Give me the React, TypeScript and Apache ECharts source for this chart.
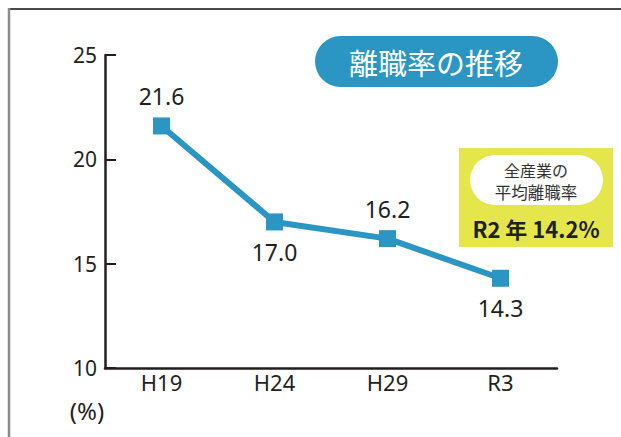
import React, { useEffect, useRef } from "react";
import * as echarts from "echarts";

const categories = ["H19", "H24", "H29", "R3"];
const rates = [21.6, 17.0, 16.2, 14.3];
const labelPositions = ["top", "bottom", "top", "bottom"];
const yMin = 10;
const yMax = 25;
const yInterval = 5;
const titleText = "離職率の推移";
const noteLines = ["全産業の", "平均離職率"];
const noteValue = "R2 年 14.2%";
const unitText = "(%)";

const BLUE = "#2b95c3";
const DARK = "#231f20";
const NUM_FONT = "'Noto Sans', 'Noto Sans CJK JP', sans-serif";
const JP_FONT = "'Noto Sans CJK JP', 'Noto Sans', sans-serif";

export default function App() {
  const ref = useRef<HTMLDivElement>(null);
  useEffect(() => {
    if (!ref.current) return;
    const chart = echarts.init(ref.current, null, { renderer: "svg" });
    chart.setOption({
      animation: false,
      backgroundColor: "#ffffff",
      grid: { left: 105, right: 64, top: 55, bottom: 69, containLabel: false },
      xAxis: {
        type: "category",
        data: categories,
        boundaryGap: true,
        axisLine: { lineStyle: { color: DARK, width: 2.5 } },
        axisTick: { inside: true, length: 8, lineStyle: { color: DARK, width: 2 } },
        axisLabel: { color: DARK, fontSize: 22, fontFamily: NUM_FONT, margin: 3 },
        splitLine: { show: false },
      },
      yAxis: {
        type: "value",
        min: yMin,
        max: yMax,
        interval: yInterval,
        axisLine: { show: true, lineStyle: { color: DARK, width: 2.5 } },
        axisTick: { show: true, inside: true, length: 11, lineStyle: { color: DARK, width: 2 } },
        axisLabel: { color: DARK, fontSize: 21, fontFamily: NUM_FONT, margin: 8 },
        splitLine: { show: false },
      },
      series: [
        {
          type: "line",
          data: rates.map((v, i) => ({
            value: v,
            label: { position: labelPositions[i], distance: 10 },
          })),
          symbol: "rect",
          symbolSize: 17,
          lineStyle: { color: BLUE, width: 6 },
          itemStyle: { color: BLUE },
          label: {
            show: true,
            color: DARK,
            fontSize: 23,
            fontFamily: NUM_FONT,
            formatter: (p: any) => Number(p.value).toFixed(1),
          },
          z: 3,
        },
      ],
      graphic: [
        {
          type: "line",
          shape: { x1: 8, y1: 9, x2: 621, y2: 9 },
          style: { stroke: "#4a4a4a", lineWidth: 2 },
        },
        {
          type: "line",
          shape: { x1: 9, y1: 8, x2: 9, y2: 437 },
          style: { stroke: "#8a8a8a", lineWidth: 2.5 },
        },
        {
          type: "rect",
          shape: { x: 315, y: 36, width: 243, height: 51, r: 25.5 },
          style: { fill: BLUE },
        },
        {
          type: "text",
          x: 436,
          y: 62,
          style: {
            text: titleText,
            fill: "#ffffff",
            fontSize: 29,
            fontFamily: JP_FONT,
            align: "center",
            verticalAlign: "middle",
          },
        },
        {
          type: "rect",
          shape: { x: 459, y: 148, width: 154, height: 99 },
          style: { fill: "#e4e64c" },
        },
        {
          type: "rect",
          shape: { x: 470, y: 155, width: 133, height: 50, r: 25 },
          style: { fill: "#ffffff" },
        },
        {
          type: "text",
          x: 536,
          y: 170,
          style: {
            text: noteLines[0],
            fill: "#333333",
            fontSize: 16,
            fontFamily: JP_FONT,
            align: "center",
            verticalAlign: "middle",
          },
        },
        {
          type: "text",
          x: 536,
          y: 192,
          style: {
            text: noteLines[1],
            fill: "#333333",
            fontSize: 16.5,
            fontFamily: JP_FONT,
            align: "center",
            verticalAlign: "middle",
          },
        },
        {
          type: "text",
          x: 536,
          y: 228,
          style: {
            text: noteValue,
            fill: DARK,
            fontSize: 22,
            fontWeight: "bold",
            fontFamily: JP_FONT,
            align: "center",
            verticalAlign: "middle",
          },
        },
        {
          type: "text",
          x: 87,
          y: 410,
          style: {
            text: unitText,
            fill: DARK,
            fontSize: 24,
            fontFamily: NUM_FONT,
            align: "center",
            verticalAlign: "middle",
          },
        },
      ],
    });
    return () => chart.dispose();
  }, []);
  return <div ref={ref} style={{ width: 621, height: 437, position: "absolute", left: 0, top: 0 }} />;
}
